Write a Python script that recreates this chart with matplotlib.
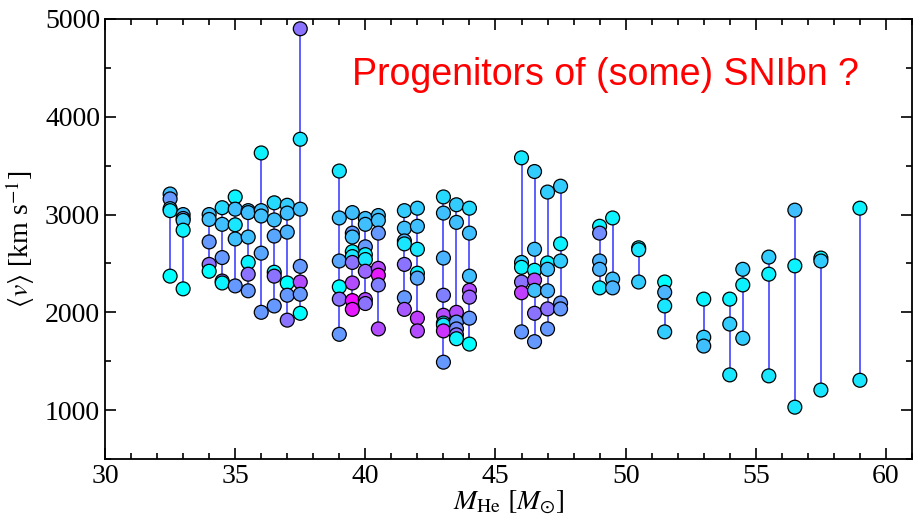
import matplotlib.pyplot as plt
import numpy as np

# helium core masses [Msun]
masses = [32.5, 33, 34, 34.5, 35, 35.5, 36, 36.5, 37, 37.5,
          39, 39.5, 40, 40.5, 41.5, 42, 43, 43.5, 44,
          46, 46.5, 47, 47.5, 49, 49.5, 50.5, 51.5,
          53, 54, 54.5, 55.5, 56.5, 57.5, 59]

# mean ejecta velocities [km/s] for each mass
velocities = [
    [3210, 3160, 3060, 3040, 2370],
    [3000, 2960, 2940, 2840, 2240],
    [3000, 2950, 2720, 2490, 2420],
    [3070, 2900, 2560, 2320, 2300],
    [3180, 3055, 2895, 2750, 2270],
    [3040, 3020, 2770, 2510, 2390, 2220],
    [3630, 3040, 2985, 2605, 2000],
    [3120, 2945, 2780, 2410, 2370, 2065],
    [3095, 3015, 2820, 2300, 2175, 1920],
    [4900, 3770, 3055, 2470, 2310, 2185, 1990],
    [3445, 2965, 2525, 2260, 2135, 1775],
    [3020, 2810, 2770, 2620, 2570, 2510, 2300, 2120, 2030],
    [2960, 2900, 2670, 2590, 2540, 2420, 2130, 2090],
    [2990, 2940, 2810, 2450, 2380, 2280, 1830],
    [3040, 2860, 2730, 2700, 2490, 2150, 2030],
    [3065, 2880, 2645, 2400, 2350, 1940, 1810],
    [3180, 3015, 2555, 2175, 1970, 1890, 1870, 1810, 1490],
    [3100, 2920, 2000, 1900, 1830, 1770, 1730],
    [3065, 2810, 2370, 2225, 2155, 1940, 1675],
    [3580, 2510, 2460, 2310, 2200, 1800],
    [3440, 2645, 2430, 2330, 2225, 1990, 1700],
    [3230, 2505, 2440, 2220, 2035, 1830],
    [3290, 2700, 2525, 2095, 2035],
    [2880, 2810, 2525, 2440, 2250],
    [2965, 2340, 2250],
    [2660, 2640, 2310],
    [2310, 2205, 2065, 1800],
    [2135, 1745, 1655],
    [2135, 1880, 1360],
    [2440, 2280, 1735],
    [2565, 2390, 1350],
    [3045, 2475, 1030],
    [2555, 2525, 1205],
    [3065, 1305],
]

# colour value (cool colormap) for each point
shades = [
    [0.25, 0.4, 0.2, 0.1, 0.0],
    [0.25, 0.4, 0.2, 0.05, 0.0],
    [0.25, 0.25, 0.4, 0.55, 0.0],
    [0.15, 0.25, 0.4, 0.55, 0.05],
    [0.05, 0.25, 0.1, 0.25, 0.4],
    [0.25, 0.25, 0.25, 0.05, 0.55, 0.4],
    [0.05, 0.25, 0.25, 0.35, 0.4],
    [0.15, 0.25, 0.35, 0.05, 0.55, 0.4],
    [0.2, 0.25, 0.3, 0.0, 0.4, 0.55],
    [0.55, 0.1, 0.25, 0.4, 0.7, 0.4, 0.0],
    [0.1, 0.25, 0.35, 0.0, 0.55, 0.4],
    [0.25, 0.4, 0.25, 0.05, 0.1, 0.55, 0.7, 0.95, 0.9],
    [0.25, 0.25, 0.4, 0.05, 0.1, 0.6, 0.7, 0.55],
    [0.25, 0.25, 0.4, 0.7, 0.9, 0.5, 0.7],
    [0.2, 0.25, 0.3, 0.1, 0.55, 0.4, 0.65],
    [0.2, 0.25, 0.1, 0.05, 0.35, 0.75, 0.7],
    [0.15, 0.25, 0.3, 0.5, 0.7, 0.05, 0.1, 0.8, 0.4],
    [0.2, 0.25, 0.7, 0.4, 0.45, 0.55, 0.05],
    [0.15, 0.25, 0.25, 0.7, 0.6, 0.4, 0.0],
    [0.1, 0.2, 0.05, 0.55, 0.75, 0.4],
    [0.2, 0.25, 0.05, 0.7, 0.25, 0.55, 0.4],
    [0.2, 0.05, 0.25, 0.3, 0.55, 0.4],
    [0.2, 0.05, 0.2, 0.4, 0.4],
    [0.05, 0.45, 0.3, 0.3, 0.1],
    [0.05, 0.25, 0.3],
    [0.05, 0.1, 0.2],
    [0.0, 0.3, 0.1, 0.2],
    [0.05, 0.2, 0.25],
    [0.05, 0.2, 0.1],
    [0.2, 0.05, 0.2],
    [0.2, 0.05, 0.1],
    [0.25, 0.05, 0.1],
    [0.05, 0.2, 0.1],
    [0.05, 0.1],
]


def main():
    plt.rcParams['font.family'] = ['Liberation Serif', 'DejaVu Serif']
    plt.rcParams['mathtext.fontset'] = 'stix'

    fig = plt.figure(figsize=(9.15, 5.23), dpi=100)
    ax = fig.add_axes([0.1148, 0.1224, 0.8819, 0.8413])

    for m, vs in zip(masses, velocities):
        ax.plot([m, m], [min(vs), max(vs)], color='blue', lw=1.1,
                alpha=0.8, zorder=1)

    for m, vs, cs in zip(masses, velocities, shades):
        ax.scatter(np.full(len(vs), m), vs, c=cs, cmap='cool',
                   vmin=0, vmax=1, s=100, edgecolors='black',
                   linewidths=0.9, zorder=2)

    ax.set_xlim(30, 61)
    ax.set_ylim(500, 5000)
    ax.set_xticks(np.arange(30, 61, 5))
    ax.set_xticks(np.arange(30, 62, 1), minor=True)
    ax.set_yticks(np.arange(1000, 5001, 1000))
    ax.set_yticks(np.arange(500, 5001, 500), minor=True)
    ax.tick_params(which='both', direction='in', top=True, right=True,
                   labelsize=20, width=1.2)
    ax.tick_params(which='major', length=8)
    ax.tick_params(which='minor', length=4)
    for sp in ax.spines.values():
        sp.set_linewidth(1.3)

    ax.set_xlabel(r'$M_{\rm He}\ [M_{\odot}]$', fontsize=20, labelpad=0)
    ax.set_ylabel(r'$\langle v \rangle$ [km s$^{-1}$]', fontsize=20,
                  labelpad=6)

    ax.text(0.62, 0.873, 'Progenitors of (some) SNIbn ?', color='red',
            fontsize=27, family='Liberation Sans', ha='center', va='center',
            transform=ax.transAxes)

    fig.savefig('out.png', dpi=100)


if __name__ == '__main__':
    main()
